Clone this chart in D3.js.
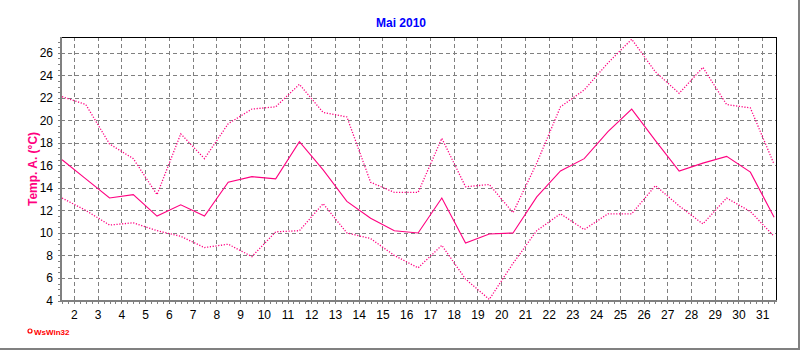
<!DOCTYPE html>
<html>
<head>
<meta charset="utf-8">
<script src="https://cdn.jsdelivr.net/npm/d3@7"></script>
<style>
  body { margin: 0; background: #fff; }
  text { font-family: Arial, "Liberation Sans", sans-serif; }
</style>
</head>
<body>
<div id="chart"></div>
<script>
// daily values, Mai 2010
var days = d3.range(1, 32);
var tMax = [22.1, 21.4, 17.9, 16.6, 13.4, 18.8, 16.6, 19.7, 21.0, 21.2,
            23.2, 20.7, 20.3, 14.5, 13.6, 13.6, 18.4, 14.1, 14.3, 11.8,
            16.2, 21.2, 22.7, 25.1, 27.2, 24.3, 22.4, 24.7, 21.4, 21.1, 16.1];
var tMean = [16.5, 14.8, 13.1, 13.4, 11.5, 12.5, 11.5, 14.5, 15.0, 14.8,
             18.1, 15.6, 12.8, 11.3, 10.2, 10.0, 13.1, 9.1, 9.9, 10.0,
             13.2, 15.5, 16.6, 19.0, 21.0, 18.2, 15.5, 16.2, 16.8, 15.4, 11.4];
var tMin = [13.1, 12.0, 10.7, 10.9, 10.2, 9.7, 8.7, 9.0, 7.9, 10.1,
            10.2, 12.6, 10.0, 9.5, 8.0, 6.9, 8.9, 5.9, 4.1, 7.3,
            10.2, 11.7, 10.3, 11.7, 11.7, 14.2, 12.4, 10.8, 13.1, 11.9, 9.7];
var yTicks = d3.range(4, 27, 2);
var xTicks = d3.range(2, 32);

var pink = "#ff0080";

var svg = d3.select("#chart")
  .append("svg")
    .attr("width", 800)
    .attr("height", 350);

// scales: day labels mark midnight, values sit at noon
var x = d3.scaleLinear()
  .domain([1.455, 31.58])
  .range([61, 776]);
var y = d3.scaleLinear()
  .domain([4, 27.4])
  .range([300.5, 37]);

// title
svg.append("text")
  .attr("x", 401).attr("y", 27)
  .attr("text-anchor", "middle")
  .attr("font-size", 12).attr("font-weight", "bold")
  .attr("fill", "#0000ff")
  .text("Mai 2010");

// grid
var grid = svg.append("g")
  .attr("stroke", "#808080")
  .attr("stroke-dasharray", "4,3")
  .attr("shape-rendering", "crispEdges");
grid.selectAll(".h")
  .data(yTicks.filter(function(d) { return d > 4; }))
  .enter().append("line")
    .attr("x1", 61).attr("x2", 776)
    .attr("y1", function(d) { return Math.round(y(d)) + 0.5; })
    .attr("y2", function(d) { return Math.round(y(d)) + 0.5; });
grid.selectAll(".v")
  .data(xTicks)
  .enter().append("line")
    .attr("y1", 37).attr("y2", 300)
    .attr("x1", function(d) { return Math.round(x(d)) + 0.5; })
    .attr("x2", function(d) { return Math.round(x(d)) + 0.5; });

// frame of plot (top, right black)
svg.append("path")
  .attr("d", "M61,37.5H776.5V301")
  .attr("fill", "none")
  .attr("stroke", "#000")
  .attr("shape-rendering", "crispEdges");

// Y axis labels
var yAxis = svg.append("g")
  .attr("transform", "translate(61,0)")
  .call(d3.axisLeft(y).tickValues(yTicks).tickSize(0).tickPadding(8));
yAxis.select(".domain").remove();
yAxis.selectAll("text").attr("font-size", 12).attr("font-family", "Arial, 'Liberation Sans', sans-serif").attr("fill", "#000");

// Y minor ticks
var yMinor = svg.append("g")
  .attr("transform", "translate(61,0)")
  .call(d3.axisLeft(y).tickValues(d3.range(4, 27.5, 0.5)).tickSize(3).tickFormat(""));
yMinor.select(".domain").remove();
yMinor.selectAll("line").attr("stroke", "#808080").attr("shape-rendering", "crispEdges");

// X axis labels
var xAxis = svg.append("g")
  .attr("transform", "translate(0,300)")
  .call(d3.axisBottom(x).tickValues(xTicks).tickSize(0).tickPadding(10));
xAxis.select(".domain").remove();
xAxis.selectAll("text").attr("font-size", 12).attr("font-family", "Arial, 'Liberation Sans', sans-serif").attr("fill", "#000");

// X minor ticks (quarter days)
var xMinor = svg.append("g")
  .attr("transform", "translate(0,301)")
  .call(d3.axisBottom(x).tickValues(d3.range(1.5, 31.6, 0.25)).tickSize(3).tickFormat(""));
xMinor.select(".domain").remove();
xMinor.selectAll("line").attr("stroke", "#808080").attr("shape-rendering", "crispEdges");

// axis lines (thick gray)
svg.append("line")
  .attr("x1", 61).attr("x2", 61).attr("y1", 37).attr("y2", 302)
  .attr("stroke", "#808080").attr("stroke-width", 2);
svg.append("line")
  .attr("x1", 60).attr("x2", 777).attr("y1", 301).attr("y2", 301)
  .attr("stroke", "#808080").attr("stroke-width", 2);

// Y axis title
svg.append("text")
  .attr("transform", "translate(37,169) rotate(-90)")
  .attr("text-anchor", "middle")
  .attr("font-size", 12).attr("font-weight", "bold")
  .attr("fill", pink)
  .text("Temp. A. (°C)");

// lines
function lineOf(vals) {
  return d3.line()
    .x(function(d, i) { return x(days[i] + 0.5); })
    .y(function(d) { return y(d); })(vals);
}
svg.append("path")
  .attr("d", lineOf(tMax))
  .attr("fill", "none").attr("stroke", pink)
  .attr("stroke-width", 1.3)
  .attr("stroke-dasharray", "1.2,1.6");
svg.append("path")
  .attr("d", lineOf(tMin))
  .attr("fill", "none").attr("stroke", pink)
  .attr("stroke-width", 1.3)
  .attr("stroke-dasharray", "1.2,1.6");
svg.append("path")
  .attr("d", lineOf(tMean))
  .attr("fill", "none").attr("stroke", pink).attr("stroke-width", 1.1);

// WsWin32 mark
svg.append("circle")
  .attr("cx", 30).attr("cy", 331).attr("r", 2)
  .attr("fill", "none").attr("stroke", "#ff0000").attr("stroke-width", 1.2);
svg.append("text")
  .attr("x", 34).attr("y", 334.5)
  .attr("font-size", 8).attr("font-weight", "bold")
  .attr("fill", "#ff0000")
  .text("WsWin32");

// outer border (right, bottom)
svg.append("path")
  .attr("d", "M0,349H799V0")
  .attr("fill", "none")
  .attr("stroke", "#808080").attr("stroke-width", 2);
</script>
</body>
</html>
